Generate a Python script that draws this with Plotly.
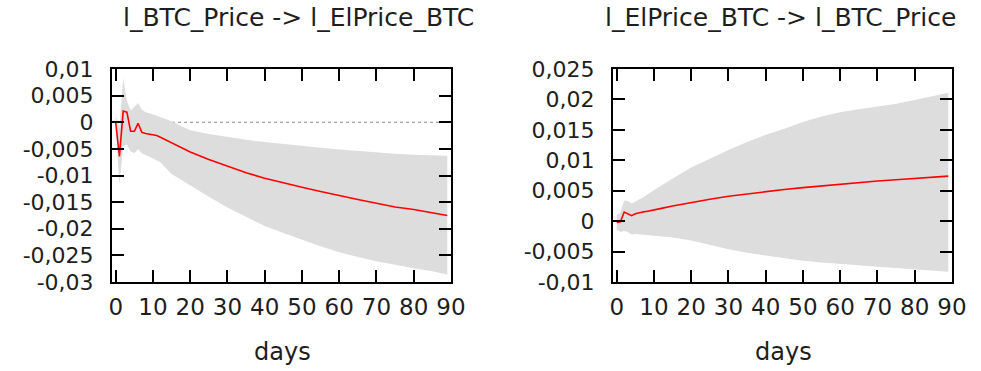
import plotly.graph_objects as go

# Impulse responses with bootstrap confidence bands (daily horizon)

# Panel 1: l_BTC_Price -> l_ElPrice_BTC
days_a = [0, 1, 2, 3, 4, 5, 6, 7, 8, 9, 10, 11, 12, 15, 20, 25, 30, 35, 40,
          45, 50, 55, 60, 65, 70, 75, 80, 85, 89]
irf_a = [-0.0001, -0.0064, 0.0021, 0.0019, -0.0017, -0.0017, -0.0002, -0.0019,
         -0.0021, -0.0022, -0.0023, -0.0025, -0.0028, -0.0039, -0.0056, -0.0070,
         -0.0083, -0.0095, -0.0105, -0.0114, -0.0122, -0.0130, -0.0138, -0.0145,
         -0.0152, -0.0159, -0.0164, -0.0170, -0.0175]
upper_a = [0.0012, -0.0010, 0.0083, 0.0040, 0.0022, 0.0030, 0.0036, 0.0024,
           0.0019, 0.0017, 0.0015, 0.0013, 0.0010, 0.0002, -0.0015, -0.0022,
           -0.0028, -0.0033, -0.0037, -0.0041, -0.0044, -0.0048, -0.0051,
           -0.0054, -0.0057, -0.0059, -0.0061, -0.0062, -0.0063]
lower_a = [-0.0014, -0.0117, -0.0045, -0.0042, -0.0055, -0.0058, -0.0050,
           -0.0058, -0.0062, -0.0065, -0.0068, -0.0071, -0.0075, -0.0097,
           -0.0119, -0.0140, -0.0160, -0.0177, -0.0195, -0.0208, -0.0221,
           -0.0233, -0.0244, -0.0253, -0.0261, -0.0268, -0.0274, -0.0280, -0.0286]

# Panel 2: l_ElPrice_BTC -> l_BTC_Price
days_b = [0, 1, 2, 3, 4, 5, 6, 7, 8, 10, 12, 15, 20, 25, 30, 35, 40, 45, 50,
          55, 60, 65, 70, 75, 80, 85, 89]
irf_b = [-0.0002, -0.0001, 0.0015, 0.0012, 0.0009, 0.0012, 0.0014, 0.0015,
         0.0016, 0.0018, 0.0021, 0.0025, 0.0031, 0.0036, 0.0041, 0.0045, 0.0048,
         0.0052, 0.0055, 0.0058, 0.0061, 0.0063, 0.0066, 0.0068, 0.0070, 0.0072,
         0.0074]
upper_b = [0.0010, 0.0014, 0.0034, 0.0033, 0.0029, 0.0032, 0.0035, 0.0039,
           0.0043, 0.0051, 0.0059, 0.0070, 0.0088, 0.0103, 0.0117, 0.0130,
           0.0142, 0.0152, 0.0163, 0.0172, 0.0179, 0.0184, 0.0188, 0.0193,
           0.0199, 0.0205, 0.0211]
lower_b = [-0.0014, -0.0018, -0.0016, -0.0018, -0.0022, -0.0021, -0.0022,
           -0.0022, -0.0023, -0.0024, -0.0025, -0.0027, -0.0032, -0.0039,
           -0.0046, -0.0052, -0.0056, -0.0061, -0.0065, -0.0068, -0.0071,
           -0.0073, -0.0075, -0.0077, -0.0079, -0.0081, -0.0083]

titles = ["l_BTC_Price -> l_ElPrice_BTC", "l_ElPrice_BTC -> l_BTC_Price"]
x_label = "days"

x_ticks = [0, 10, 20, 30, 40, 50, 60, 70, 80, 90]
y_ticks_a = [0.01, 0.005, 0, -0.005, -0.01, -0.015, -0.02, -0.025, -0.03]
y_text_a = ["0,01", "0,005", "0", "-0,005", "-0,01", "-0,015", "-0,02",
            "-0,025", "-0,03"]
y_ticks_b = [0.025, 0.02, 0.015, 0.01, 0.005, 0, -0.005, -0.01]
y_text_b = ["0,025", "0,02", "0,015", "0,01", "0,005", "0", "-0,005", "-0,01"]

FONT = "DejaVu Sans"
BAND = "#dddddd"
LINE = "#ff0000"
TXT = "#1e1e1e"

fig = go.Figure()

panels = [
    ("x", "y", days_a, irf_a, upper_a, lower_a),
    ("x2", "y2", days_b, irf_b, upper_b, lower_b),
]
for xa, ya, d, m, up, lo in panels:
    fig.add_trace(go.Scatter(
        x=list(d) + list(d)[::-1], y=list(up) + list(lo)[::-1],
        fill="toself", fillcolor=BAND, line=dict(width=0),
        mode="lines", hoverinfo="skip", showlegend=False, xaxis=xa, yaxis=ya))
    fig.add_trace(go.Scatter(
        x=d, y=m, mode="lines", line=dict(color=LINE, width=1.6),
        showlegend=False, xaxis=xa, yaxis=ya))
    # dotted zero line beneath the band
    fig.add_shape(type="line", xref=xa, yref=ya, x0=-1, x1=90, y0=0, y1=0,
                  line=dict(color="#888888", width=1, dash="dot"), layer="below")

y_dom = [1 - 282 / 371, 1 - 69 / 371]
axis_common = dict(
    showline=True, linecolor="black", linewidth=2, mirror="ticks",
    ticks="inside", ticklen=12, tickwidth=1.5, tickcolor="black",
    showgrid=False, zeroline=False, automargin=False,
)
xfont = dict(family=FONT, size=23, color=TXT)
yfont = dict(family=FONT, size=22, color=TXT)

fig.update_layout(
    width=981, height=371,
    margin=dict(l=0, r=0, t=0, b=0, autoexpand=False),
    paper_bgcolor="white", plot_bgcolor="white",
    xaxis=dict(domain=[112 / 981, 451 / 981], range=[-1, 90], tickfont=xfont,
               tickvals=x_ticks, ticklabelstandoff=3, anchor="y", **axis_common),
    yaxis=dict(domain=y_dom, range=[-0.03, 0.01], tickvals=y_ticks_a, tickfont=yfont,
               ticktext=y_text_a, ticklabelstandoff=12, anchor="x", **axis_common),
    xaxis2=dict(domain=[613 / 981, 952 / 981], range=[-1, 90], tickfont=xfont,
                tickvals=x_ticks, ticklabelstandoff=3, anchor="y2", **axis_common),
    yaxis2=dict(domain=y_dom, range=[-0.01, 0.025], tickvals=y_ticks_b, tickfont=yfont,
                ticktext=y_text_b, ticklabelstandoff=12, anchor="x2", **axis_common),
)

for cx, t in zip([298, 780], titles):
    fig.add_annotation(text=t, x=cx / 981, y=1 - 18 / 371, xref="paper",
                       yref="paper", showarrow=False, xanchor="center",
                       yanchor="middle", font=dict(family=FONT, size=25, color=TXT))
for cx in [282, 783]:
    fig.add_annotation(text=x_label, x=cx / 981, y=1 - 352 / 371, xref="paper",
                       yref="paper", showarrow=False, xanchor="center",
                       yanchor="middle", font=dict(family=FONT, size=24, color=TXT))

fig.write_html("out.html")
